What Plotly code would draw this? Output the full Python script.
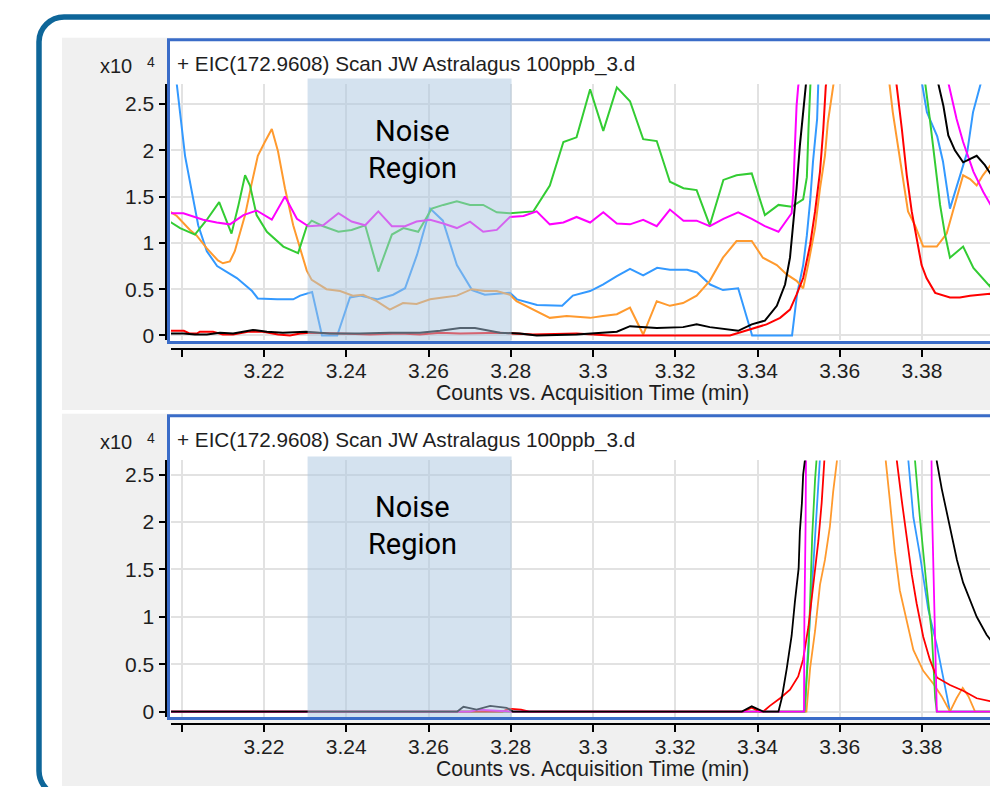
import plotly.graph_objects as go

# the page is drawn inside the browser body's 8px margin; keep the page exactly one window tall
BODY = 8
W, H = 998 - BODY, 795 - 2 * BODY
FONT = "Liberation Sans, Arial, sans-serif"

# ---------------- data (time in min, counts in x10^4) ----------------
x_tick_vals = [3.20, 3.22, 3.24, 3.26, 3.28, 3.30, 3.32, 3.34, 3.36, 3.38]
x_tick_text = ["", "3.22", "3.24", "3.26", "3.28", "3.3", "3.32", "3.34", "3.36", "3.38"]
y_tick_vals = [0, 0.5, 1, 1.5, 2, 2.5]
y_tick_text = ["0", "0.5", "1", "1.5", "2", "2.5"]
noise_start, noise_end = 3.2306, 3.2802
title_text = "+ EIC(172.9608) Scan JW Astralagus 100ppb_3.d"
x_title = "Counts vs. Acquisition Time (min)"

# ---- top panel ----
top_blue_t = [3.1974, 3.2008, 3.2040, 3.2061, 3.2086, 3.2134, 3.2171, 3.2185, 3.2232, 3.2271,
              3.2288, 3.2317, 3.2341, 3.2378, 3.2409, 3.2433, 3.2475, 3.2514, 3.2543, 3.2572,
              3.2604, 3.2635, 3.2669, 3.2706, 3.2737, 3.2798, 3.2815, 3.2864, 3.2925, 3.2951,
              3.2993, 3.3024, 3.3058, 3.3090, 3.3122, 3.3156, 3.3187, 3.3229, 3.3253, 3.3285,
              3.3316, 3.3353, 3.3387, 3.3484, 3.3496, 3.3511, 3.3520, 3.3528, 3.3535, 3.3545,
              3.3548, 3.3680, 3.3799, 3.3812, 3.3837, 3.3851, 3.3868, 3.3893, 3.3910, 3.3924,
              3.3941, 3.3990]
top_blue_y = [3.25, 1.94, 1.19, 0.91, 0.75, 0.62, 0.48, 0.40, 0.39, 0.39,
              0.43, 0.47, 0.00, 0.00, 0.41, 0.43, 0.39, 0.44, 0.51, 0.87,
              1.37, 1.24, 0.76, 0.49, 0.44, 0.46, 0.39, 0.33, 0.32, 0.43,
              0.48, 0.55, 0.64, 0.72, 0.65, 0.73, 0.71, 0.71, 0.68, 0.55,
              0.49, 0.51, 0.00, 0.00, 0.44, 0.76, 1.08, 1.45, 1.88, 2.34,
              2.75, 10.0, 2.75, 2.41, 2.15, 1.88, 1.37, 1.73, 1.98, 2.41,
              2.71, 3.50]

top_orange_t = [3.1971, 3.1988, 3.2020, 3.2036, 3.2061, 3.2088, 3.2100, 3.2117, 3.2129, 3.2154,
                3.2170, 3.2185, 3.2202, 3.2219, 3.2234, 3.2251, 3.2271, 3.2292, 3.2304, 3.2316,
                3.2352, 3.2385, 3.2416, 3.2441, 3.2474, 3.2506, 3.2538, 3.2571, 3.2604, 3.2635,
                3.2669, 3.2705, 3.2737, 3.2766, 3.2798, 3.2814, 3.2854, 3.2895, 3.2936, 3.2993,
                3.3024, 3.3058, 3.3090, 3.3122, 3.3155, 3.3187, 3.3219, 3.3252, 3.3284, 3.3316,
                3.3349, 3.3386, 3.3413, 3.3447, 3.3471, 3.3495, 3.3511, 3.3523, 3.3540, 3.3552,
                3.3564, 3.3571, 3.3584, 3.3586, 3.3660, 3.3720, 3.3729, 3.3742, 3.3754, 3.3766,
                3.3783, 3.3803, 3.3836, 3.3860, 3.3875, 3.3892, 3.3900, 3.3917, 3.3933, 3.3948,
                3.3965, 3.3982, 3.3990]
top_orange_y = [1.34, 1.29, 1.14, 1.08, 0.94, 0.81, 0.78, 0.80, 0.91, 1.30,
                1.64, 1.94, 2.09, 2.23, 1.99, 1.59, 1.19, 0.87, 0.70, 0.60,
                0.50, 0.48, 0.43, 0.44, 0.37, 0.28, 0.35, 0.34, 0.39, 0.41,
                0.43, 0.50, 0.48, 0.48, 0.44, 0.37, 0.28, 0.19, 0.21, 0.19,
                0.21, 0.23, 0.30, 0.01, 0.37, 0.32, 0.35, 0.43, 0.59, 0.84,
                1.02, 1.02, 0.84, 0.76, 0.66, 0.59, 0.51, 0.76, 1.16, 1.59,
                1.94, 2.30, 2.69, 2.75, 10.0, 2.75, 2.41, 2.05, 1.69, 1.34,
                1.19, 0.96, 0.96, 1.10, 1.34, 1.59, 1.73, 1.69, 1.62, 1.73,
                1.83, 1.73, 1.70]

top_green_t = [3.1971, 3.1996, 3.2032, 3.2061, 3.2091, 3.2121, 3.2138, 3.2154, 3.2166, 3.2182,
               3.2207, 3.2247, 3.2283, 3.2304, 3.2316, 3.2344, 3.2381, 3.2413, 3.2446, 3.2478,
               3.2511, 3.2539, 3.2575, 3.2608, 3.2636, 3.2669, 3.2701, 3.2733, 3.2766, 3.2798,
               3.2855, 3.2895, 3.2928, 3.2960, 3.2993, 3.3025, 3.3058, 3.3090, 3.3122, 3.3155,
               3.3187, 3.3220, 3.3252, 3.3284, 3.3317, 3.3349, 3.3386, 3.3418, 3.3451, 3.3483,
               3.3511, 3.3520, 3.3524, 3.3528, 3.3529, 3.3670, 3.3807, 3.3819, 3.3832, 3.3844,
               3.3856, 3.3868, 3.3900, 3.3925, 3.3965, 3.3982, 3.3990]
top_green_y = [1.23, 1.16, 1.09, 1.25, 1.44, 1.10, 1.41, 1.73, 1.62, 1.30,
               1.12, 0.96, 0.89, 1.18, 1.24, 1.18, 1.12, 1.14, 1.19, 0.69,
               1.09, 1.16, 1.12, 1.37, 1.41, 1.45, 1.41, 1.41, 1.33, 1.32,
               1.34, 1.62, 2.09, 2.14, 2.66, 2.21, 2.68, 2.53, 2.12, 2.10,
               1.66, 1.59, 1.57, 1.19, 1.68, 1.73, 1.75, 1.30, 1.41, 1.39,
               1.47, 1.71, 2.23, 2.69, 2.75, 10.0, 2.75, 2.34, 1.87, 1.41,
               1.09, 0.84, 0.96, 0.73, 0.53, 0.73, 0.80]

top_red_t = [3.1971, 3.2005, 3.2020, 3.2037, 3.2044, 3.2076, 3.2100, 3.2125, 3.2161, 3.2198,
             3.2234, 3.2263, 3.2288, 3.2312, 3.2385, 3.2458, 3.2531, 3.2579, 3.2628, 3.2677,
             3.2774, 3.2854, 3.2960, 3.3041, 3.3333, 3.3382, 3.3422, 3.3455, 3.3479, 3.3495,
             3.3511, 3.3528, 3.3540, 3.3552, 3.3560, 3.3566, 3.3568, 3.3650, 3.3737, 3.3751,
             3.3763, 3.3775, 3.3787, 3.3799, 3.3811, 3.3832, 3.3868, 3.3892, 3.3917, 3.3949,
             3.3965, 3.3982, 3.3990]
top_red_y = [0.05, 0.05, 0.02, 0.02, 0.04, 0.04, 0.01, 0.01, 0.04, 0.04,
             0.01, 0.00, 0.02, 0.03, 0.02, 0.01, 0.02, 0.01, 0.03, 0.02,
             0.03, 0.01, 0.02, 0.00, 0.00, 0.07, 0.12, 0.19, 0.28, 0.44,
             0.62, 0.98, 1.34, 1.77, 2.23, 2.69, 2.75, 10.0, 2.75, 2.23,
             1.73, 1.34, 1.05, 0.76, 0.62, 0.46, 0.41, 0.41, 0.43, 0.44,
             0.45, 0.41, 0.41]

top_magenta_t = [3.1971, 3.2004, 3.2052, 3.2085, 3.2117, 3.2150, 3.2182, 3.2219, 3.2251, 3.2280,
                 3.2308, 3.2344, 3.2381, 3.2413, 3.2446, 3.2478, 3.2511, 3.2543, 3.2571, 3.2604,
                 3.2636, 3.2669, 3.2701, 3.2733, 3.2766, 3.2798, 3.2831, 3.2863, 3.2895, 3.2928,
                 3.2960, 3.2993, 3.3025, 3.3058, 3.3090, 3.3122, 3.3155, 3.3187, 3.3220, 3.3252,
                 3.3284, 3.3317, 3.3353, 3.3386, 3.3418, 3.3451, 3.3483, 3.3487, 3.3491, 3.3495,
                 3.3499, 3.3501, 3.3680, 3.3863, 3.3884, 3.3900, 3.3925, 3.3949, 3.3967, 3.3982,
                 3.3990]
top_magenta_y = [1.32, 1.32, 1.25, 1.22, 1.20, 1.30, 1.35, 1.25, 1.50, 1.26,
                 1.18, 1.19, 1.32, 1.23, 1.19, 1.34, 1.18, 1.18, 1.23, 1.25,
                 1.21, 1.16, 1.23, 1.12, 1.14, 1.28, 1.29, 1.34, 1.20, 1.22,
                 1.28, 1.22, 1.33, 1.21, 1.20, 1.25, 1.18, 1.36, 1.24, 1.24,
                 1.18, 1.26, 1.33, 1.26, 1.18, 1.12, 1.32, 1.55, 2.05, 2.48,
                 2.69, 2.75, 10.0, 2.75, 2.34, 2.09, 1.77, 1.55, 1.41, 1.53,
                 1.58]

top_black_t = [3.1971, 3.2005, 3.2032, 3.2061, 3.2093, 3.2125, 3.2173, 3.2207, 3.2246, 3.2302,
               3.2360, 3.2433, 3.2506, 3.2579, 3.2628, 3.2677, 3.2713, 3.2774, 3.2822, 3.2863,
               3.2960, 3.3058, 3.3090, 3.3122, 3.3155, 3.3219, 3.3252, 3.3284, 3.3353, 3.3386,
               3.3418, 3.3447, 3.3467, 3.3479, 3.3487, 3.3495, 3.3503, 3.3511, 3.3516, 3.3518,
               3.3680, 3.3838, 3.3852, 3.3864, 3.3880, 3.3900, 3.3917, 3.3933, 3.3953, 3.3969,
               3.3981, 3.3990]
top_black_y = [0.02, 0.02, 0.01, 0.01, 0.03, 0.02, 0.06, 0.04, 0.03, 0.04,
               0.02, 0.02, 0.03, 0.03, 0.05, 0.08, 0.08, 0.03, 0.02, 0.00,
               0.01, 0.04, 0.10, 0.09, 0.08, 0.09, 0.12, 0.09, 0.05, 0.12,
               0.16, 0.32, 0.55, 0.84, 1.19, 1.59, 2.05, 2.48, 2.69, 2.75,
               10.0, 2.75, 2.48, 2.16, 2.00, 1.87, 1.91, 1.94, 1.84, 1.73,
               1.59, 1.52]

# ---- bottom panel ----
bot_blue_t = [3.1974, 3.3516, 3.3520, 3.3528, 3.3536, 3.3544, 3.3551, 3.3553, 3.3670, 3.3765,
              3.3767, 3.3779, 3.3795, 3.3815, 3.3836, 3.3852, 3.3868, 3.3990]
bot_blue_y = [0, 0, 0.45, 1.00, 1.55, 2.08, 2.64, 2.75, 10.0, 2.75,
              2.64, 2.05, 1.65, 1.08, 0.70, 0.35, 0, 0]

bot_orange_t = [3.1974, 3.3519, 3.3528, 3.3540, 3.3552, 3.3564, 3.3576, 3.3584, 3.3593, 3.3595,
                3.3670, 3.3710, 3.3712, 3.3722, 3.3734, 3.3746, 3.3763, 3.3779, 3.3803, 3.3828,
                3.3848, 3.3868, 3.3884, 3.3899, 3.3913, 3.3929, 3.3990]
bot_orange_y = [0, 0, 0.46, 0.85, 1.34, 1.60, 1.95, 2.32, 2.64, 2.75,
                10.0, 2.75, 2.64, 2.22, 1.69, 1.28, 0.95, 0.65, 0.43, 0.29,
                0.16, 0, 0.14, 0.25, 0.16, 0, 0]

bot_green_t = [3.1974, 3.3514, 3.3524, 3.3528, 3.3533, 3.3540, 3.3544, 3.3546, 3.3670, 3.3781,
               3.3783, 3.3795, 3.3811, 3.3824, 3.3832, 3.3836, 3.3990]
bot_green_y = [0, 0, 0.63, 1.15, 1.85, 2.45, 2.64, 2.75, 10.0, 2.75,
               2.64, 2.04, 1.33, 0.81, 0.14, 0, 0]

bot_red_t = [3.1974, 3.2780, 3.2795, 3.2825, 3.2845, 3.3365, 3.3386, 3.3405, 3.3414, 3.3430,
             3.3455, 3.3479, 3.3499, 3.3511, 3.3524, 3.3536, 3.3548, 3.3556, 3.3564, 3.3566,
             3.3670, 3.3737, 3.3739, 3.3751, 3.3763, 3.3775, 3.3787, 3.3803, 3.3819, 3.3836,
             3.3868, 3.3900, 3.3933, 3.3965, 3.3990]
bot_red_y = [0, 0, 0.03, 0.02, 0, 0, 0.04, 0, 0, 0.06,
             0.14, 0.23, 0.37, 0.55, 0.90, 1.35, 1.80, 2.20, 2.64, 2.75,
             10.0, 2.75, 2.64, 2.22, 1.82, 1.45, 1.14, 0.79, 0.55, 0.36,
             0.28, 0.22, 0.14, 0.11, 0.11]

bot_magenta_t = [3.1974, 3.2700, 3.2720, 3.2760, 3.2800, 3.3513, 3.3514, 3.3517, 3.3518, 3.3670,
                 3.3823, 3.3824, 3.3836, 3.3990]
bot_magenta_y = [0, 0, 0.02, 0.01, 0, 0, 0.98, 2.00, 2.75, 10.0,
                 2.75, 2.20, 0, 0]

bot_black_t = [3.1974, 3.2670, 3.2685, 3.2717, 3.2750, 3.2790, 3.2805, 3.3362, 3.3386, 3.3414,
               3.3451, 3.3459, 3.3471, 3.3483, 3.3491, 3.3500, 3.3503, 3.3508, 3.3511, 3.3516,
               3.3518, 3.3670, 3.3834, 3.3836, 3.3848, 3.3860, 3.3872, 3.3885, 3.3900, 3.3917,
               3.3933, 3.3957, 3.3982, 3.3990]
bot_black_y = [0, 0, 0.05, 0.02, 0.06, 0.04, 0, 0, 0.055, 0,
               0, 0.14, 0.45, 0.80, 1.16, 1.51, 1.90, 2.20, 2.50, 2.64,
               2.75, 10.0, 2.75, 2.64, 2.35, 2.10, 1.85, 1.60, 1.36, 1.17,
               1.00, 0.81, 0.67, 0.65]

series = [
    ("#3399ff", top_blue_t, top_blue_y, bot_blue_t, bot_blue_y),
    ("#ff9a2e", top_orange_t, top_orange_y, bot_orange_t, bot_orange_y),
    ("#33cc33", top_green_t, top_green_y, bot_green_t, bot_green_y),
    ("#ff0000", top_red_t, top_red_y, bot_red_t, bot_red_y),
    ("#ff00ff", top_magenta_t, top_magenta_y, bot_magenta_t, bot_magenta_y),
    ("#000000", top_black_t, top_black_y, bot_black_t, bot_black_y),
]

# ---------------- layout helpers (screen pixel -> paper) ----------------
def PX(x):
    return (x - BODY) / W

def PY(y):
    return 1 - (y - BODY) / H

def rounded_path(x0, y0, x1, y1, r):
    k = 0.5523 * r
    def P(x, y):
        return f"{PX(x):.5f},{PY(y):.5f}"
    return (f"M {P(x0, y0 + r)} C {P(x0, y0 + r - k)} {P(x0 + r - k, y0)} {P(x0 + r, y0)} "
            f"L {P(x1 - r, y0)} C {P(x1 - r + k, y0)} {P(x1, y0 + r - k)} {P(x1, y0 + r)} "
            f"L {P(x1, y1 - r)} C {P(x1, y1 - r + k)} {P(x1 - r + k, y1)} {P(x1 - r, y1)} "
            f"L {P(x0 + r, y1)} C {P(x0 + r - k, y1)} {P(x0, y1 - r + k)} {P(x0, y1 - r)} Z")

X_LEFT_PX, X_RIGHT_PX = 171, 998
PX_PER_MIN = 4112.5
X_RANGE = [3.22 + (X_LEFT_PX - 264) / PX_PER_MIN, 3.22 + (X_RIGHT_PX - 264) / PX_PER_MIN]

panels = [
    dict(dtop=85, dbot=343, zero=338, ppu=93.3, xline=351.5, ftop=40, fbot=345, off=0,
         gtop=38, gbot=413, ntop=79),
    dict(dtop=464, dbot=722, zero=717, ppu=95.5, xline=730, ftop=419, fbot=724, off=379,
         gtop=417, gbot=792, ntop=460),
]

fig = go.Figure()
for color, tt, ty, bt, by in series:
    fig.add_trace(go.Scatter(x=tt, y=ty, mode="lines", line=dict(color=color, width=2),
                             xaxis="x", yaxis="y", showlegend=False, hoverinfo="skip"))
    fig.add_trace(go.Scatter(x=bt, y=by, mode="lines", line=dict(color=color, width=1.8),
                             xaxis="x2", yaxis="y2", showlegend=False, hoverinfo="skip"))

TXT = "#1e1e1e"
tickfont = dict(family=FONT, size=21, color=TXT)
shapes = []
annotations = []
layout_axes = {}

# page decoration: rounded outer border
shapes.append(dict(type="path", xref="paper", yref="paper", layer="below",
                   path=rounded_path(39, 17, 1100, 802, 25),
                   line=dict(color="#0e6699", width=5.5), fillcolor="white"))

for k, p in enumerate(panels):
    xs = "" if k == 0 else "2"
    ymin = (p["zero"] - p["dbot"]) / p["ppu"]
    ymax = (p["zero"] - p["dtop"]) / p["ppu"]
    layout_axes["xaxis" + xs] = dict(
        domain=[PX(X_LEFT_PX), 1], range=X_RANGE, anchor="free", position=PY(p["xline"]),
        tickvals=x_tick_vals, ticktext=x_tick_text, showgrid=True, gridcolor="#e2e2e2", gridwidth=2,
        showline=True, linecolor="black", linewidth=2, ticks="outside", ticklen=7, tickwidth=2,
        tickcolor="black", tickfont=tickfont, ticklabelstandoff=-4, zeroline=False, fixedrange=True)
    layout_axes["yaxis" + xs] = dict(
        domain=[PY(p["dbot"]), PY(p["dtop"])], range=[ymin, ymax], anchor="free", position=PX(165.5),
        tickvals=y_tick_vals, ticktext=y_tick_text, showgrid=True, gridcolor="#e2e2e2", gridwidth=2,
        showline=True, linecolor="black", linewidth=2, ticks="outside", ticklen=6, tickwidth=2,
        tickcolor="black", tickfont=tickfont, zeroline=False, fixedrange=True)
    # gray panel
    shapes.append(dict(type="rect", xref="paper", yref="paper", layer="below",
                       x0=PX(62), x1=PX(1100), y0=PY(p["gbot"]), y1=PY(p["gtop"]),
                       line=dict(width=0), fillcolor="#f0f0f0"))
    # plot frame
    shapes.append(dict(type="rect", xref="paper", yref="paper", layer="below",
                       x0=PX(168.5), x1=PX(1100), y0=PY(p["fbot"]), y1=PY(p["ftop"]),
                       line=dict(color="#3a6cc8", width=3), fillcolor="white"))
    # noise region (translucent overlay above the traces)
    shapes.append(dict(type="rect", xref="x" + xs, yref="paper", layer="above",
                       x0=noise_start, x1=noise_end, y0=PY(p["dbot"] + 0.5), y1=PY(p["ntop"]),
                       line=dict(width=0), fillcolor="rgba(169,197,223,0.5)"))
    off = p["off"]
    annotations += [
        dict(text=title_text, x=PX(175), y=PY(64 + off), xanchor="left", yanchor="middle",
             font=dict(family=FONT, size=20.7, color=TXT)),
        dict(text="x10", x=PX(134), y=PY(66 + off), xanchor="right", yanchor="middle",
             font=dict(family=FONT, size=20, color=TXT)),
        dict(text="4", x=PX(145), y=PY(62 + off), xanchor="left", yanchor="middle",
             font=dict(family=FONT, size=14, color=TXT)),
        dict(text="Noise", x=PX(412.5), y=PY(132 + off), xanchor="center", yanchor="middle",
             font=dict(family="Roboto, sans-serif", size=29, color="black")),
        dict(text="Region", x=PX(412.5), y=PY(169 + off), xanchor="center", yanchor="middle",
             font=dict(family="Roboto, sans-serif", size=29, color="black")),
        dict(text=x_title, x=PX(592), y=PY(396 + off), xanchor="center", yanchor="middle",
             font=dict(family=FONT, size=21.2, color=TXT)),
    ]

for a in annotations:
    a.update(xref="paper", yref="paper", showarrow=False)

fig.update_layout(
    width=W, height=H, autosize=False,
    margin=dict(l=0, r=0, t=0, b=0, pad=0),
    paper_bgcolor="white", plot_bgcolor="rgba(0,0,0,0)",
    showlegend=False, shapes=shapes, annotations=annotations,
    **layout_axes,
)

fig.write_html("out.html")
